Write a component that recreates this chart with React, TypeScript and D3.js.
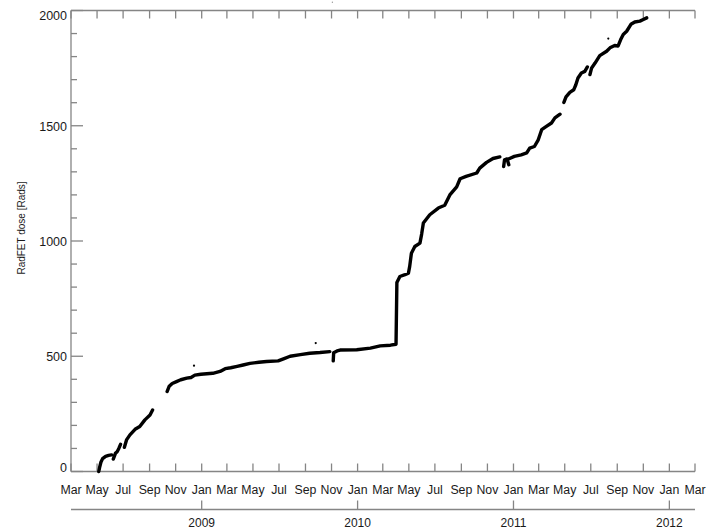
import React from "react";
import * as d3 from "d3";

// Cumulative RadFET dose readings; null marks a break in the record.
const DATES: string[] = [
  "2008-05-05", "2008-05-07", "2008-05-10", "2008-05-14", "2008-05-21", "2008-05-28", "2008-06-04",
  "2008-06-06",
  "2008-06-08", "2008-06-13", "2008-06-17", "2008-06-21", "2008-06-25",
  "2008-06-30",
  "2008-07-04", "2008-07-09", "2008-07-17", "2008-07-29", "2008-08-09", "2008-08-21", "2008-09-02", "2008-09-08",
  "2008-09-20",
  "2008-10-12", "2008-10-17", "2008-10-24", "2008-11-03", "2008-11-13", "2008-11-27", "2008-12-07",
  "2008-12-16", "2008-12-30", "2009-01-27", "2009-02-13", "2009-02-25", "2009-03-10", "2009-03-25",
  "2009-04-08", "2009-04-24", "2009-05-15", "2009-06-02", "2009-06-29", "2009-07-13", "2009-07-27",
  "2009-08-20", "2009-09-11", "2009-10-05", "2009-10-28",
  "2009-11-01",
  "2009-11-05", "2009-11-06", "2009-11-14", "2009-11-21", "2009-12-30", "2010-01-31", "2010-02-23",
  "2010-03-19", "2010-04-01", "2010-04-03", "2010-04-10", "2010-04-22", "2010-04-30", "2010-05-03",
  "2010-05-07", "2010-05-15", "2010-05-27", "2010-05-31", "2010-06-04", "2010-06-19", "2010-07-09",
  "2010-07-24", "2010-08-05", "2010-08-21", "2010-08-29", "2010-09-12", "2010-10-07", "2010-10-14",
  "2010-10-30", "2010-11-14", "2010-11-30",
  "2010-12-05",
  "2010-12-09", "2010-12-11", "2010-12-17", "2010-12-21",
  "2010-12-22",
  "2010-12-23", "2011-01-03", "2011-01-19", "2011-02-01", "2011-02-08", "2011-02-19", "2011-02-28",
  "2011-03-08", "2011-03-19", "2011-03-31", "2011-04-08", "2011-04-20",
  "2011-04-25",
  "2011-04-29", "2011-05-04", "2011-05-13", "2011-05-22", "2011-05-27", "2011-06-01", "2011-06-09",
  "2011-06-17", "2011-06-23",
  "2011-06-26",
  "2011-06-29", "2011-07-03", "2011-07-11", "2011-07-22", "2011-08-07", "2011-08-15", "2011-08-26",
  "2011-09-03", "2011-09-09", "2011-09-15", "2011-09-23", "2011-10-03", "2011-10-12", "2011-10-24",
  "2011-11-01", "2011-11-09",
];

const DOSE: (number | null)[] = [
  0, 18, 40, 56, 66, 70, 72,
  null,
  54, 79, 86, 100, 118,
  null,
  105, 137, 159, 183, 195, 224, 245, 267,
  null,
  347, 370, 382, 390, 398, 405, 408,
  418, 422, 426, 434, 446, 450, 456,
  462, 469, 474, 477, 480, 490, 500,
  507, 513, 516, 520,
  null,
  480, 515, 523, 527, 528, 535, 545,
  548, 552, 820, 846, 854, 860, 890,
  947, 976, 991, 1030, 1078, 1114, 1143,
  1155, 1200, 1235, 1270, 1280, 1295, 1316,
  1341, 1358, 1365,
  null,
  1323, 1352, 1356, 1331,
  null,
  1358, 1367, 1374, 1382, 1403, 1410, 1439,
  1483, 1497, 1512, 1534, 1550,
  null,
  1601, 1625, 1645, 1656, 1678, 1707, 1729,
  1736, 1755,
  null,
  1722, 1751, 1772, 1804, 1823, 1838, 1848,
  1846, 1874, 1896, 1910, 1940, 1950, 1954,
  1961, 1968,
];

// Isolated single readings
const SPIKE_DATES: string[] = ["2008-12-14", "2009-09-25", "2011-08-11", "2009-11-03"];
const SPIKE_DOSE: number[] = [459, 557, 1878, 2036];

const Y_TICKS: number[] = [0, 500, 1000, 1500, 2000];
const Y_LABEL = "RadFET dose [Rads]";

const W = 708;
const H = 530;
const LEFT = 71;
const RIGHT = 695;
const TOP = 10.5;
const BOTTOM = 471.5;
const YEAR_AXIS_Y = 509.5;

const FONT = "'Liberation Sans', Arial, Helvetica, sans-serif";
const AXIS = "#858585";
const INK = "#1a1a1a";

const parse = d3.timeParse("%Y-%m-%d");

export default function App() {
  const x = d3
    .scaleTime()
    .domain([new Date(2008, 2, 1), new Date(2012, 2, 1)])
    .range([LEFT, RIGHT]);
  const y = d3.scaleLinear().domain([0, 2000]).range([BOTTOM, TOP]);

  const points = DATES.map((d, i) => ({ date: parse(d) as Date, dose: DOSE[i] }));
  const line = d3
    .line<{ date: Date; dose: number | null }>()
    .defined((p) => p.dose !== null)
    .x((p) => x(p.date))
    .y((p) => y(p.dose as number));

  const monthTicks = x.ticks(d3.timeMonth.every(2) as d3.TimeInterval);
  const yearTicks = x.ticks(d3.timeYear);
  const minorY = d3.range(0, 2001, 100);
  const fmtMonth = d3.timeFormat("%b");
  const fmtYear = d3.timeFormat("%Y");

  return (
    <svg
      width={W}
      height={H}
      style={{ position: "absolute", left: 0, top: 0, background: "#fff" }}
      fontFamily={FONT}
    >
      <rect x={0} y={0} width={W} height={H} fill="#fff" />

      {/* left axis */}
      <line x1={LEFT} x2={LEFT} y1={TOP} y2={BOTTOM} stroke={AXIS} strokeWidth={1.3} />
      {minorY.map((v) => (
        <line
          key={"my" + v}
          x1={LEFT}
          x2={LEFT + (v % 500 === 0 ? 12 : 6)}
          y1={y(v)}
          y2={y(v)}
          stroke={AXIS}
          strokeWidth={1.3}
        />
      ))}
      {Y_TICKS.map((v) => (
        <text
          key={"yl" + v}
          x={67}
          y={Math.min(Math.max(y(v) + 4.8, TOP + 9.5), BOTTOM + 0.3)}
          textAnchor="end"
          fontSize={12.5}
          fill={INK}
        >
          {v}
        </text>
      ))}
      <text
        transform={`translate(25,228) rotate(-90)`}
        textAnchor="middle"
        fontSize={10}
        fill={INK}
      >
        {Y_LABEL}
      </text>

      {/* bottom and top month axes */}
      <line x1={LEFT} x2={RIGHT} y1={BOTTOM} y2={BOTTOM} stroke={AXIS} strokeWidth={1.3} />
      <line x1={LEFT} x2={RIGHT} y1={TOP} y2={TOP} stroke={AXIS} strokeWidth={1.3} />
      {monthTicks.map((d) => (
        <g key={"m" + d.getTime()}>
          <line x1={x(d)} x2={x(d)} y1={BOTTOM} y2={BOTTOM - 8} stroke={AXIS} strokeWidth={1.3} />
          <line x1={x(d)} x2={x(d)} y1={TOP} y2={TOP + 8} stroke={AXIS} strokeWidth={1.3} />
          <text x={x(d)} y={493.5} textAnchor="middle" fontSize={12.3} fill={INK}>
            {fmtMonth(d)}
          </text>
        </g>
      ))}

      {/* year axis */}
      <line x1={LEFT} x2={RIGHT} y1={YEAR_AXIS_Y} y2={YEAR_AXIS_Y} stroke={AXIS} strokeWidth={1.3} />
      {yearTicks.map((d) => (
        <g key={"yr" + d.getTime()}>
          <line
            x1={x(d)}
            x2={x(d)}
            y1={YEAR_AXIS_Y}
            y2={YEAR_AXIS_Y - 9}
            stroke={AXIS}
            strokeWidth={1.3}
          />
          <text x={x(d)} y={527} textAnchor="middle" fontSize={12} fill={INK}>
            {fmtYear(d)}
          </text>
        </g>
      ))}

      {/* dose record */}
      <path
        d={line(points) ?? ""}
        fill="none"
        stroke="#000"
        strokeWidth={3.4}
        strokeLinejoin="round"
        strokeLinecap="round"
      />
      {SPIKE_DATES.map((d, i) => (
        <circle
          key={"s" + d}
          cx={x(parse(d) as Date)}
          cy={y(SPIKE_DOSE[i])}
          r={i === 3 ? 0.7 : 1.1}
          fill={i === 3 ? "#999" : "#000"}
        />
      ))}
    </svg>
  );
}
